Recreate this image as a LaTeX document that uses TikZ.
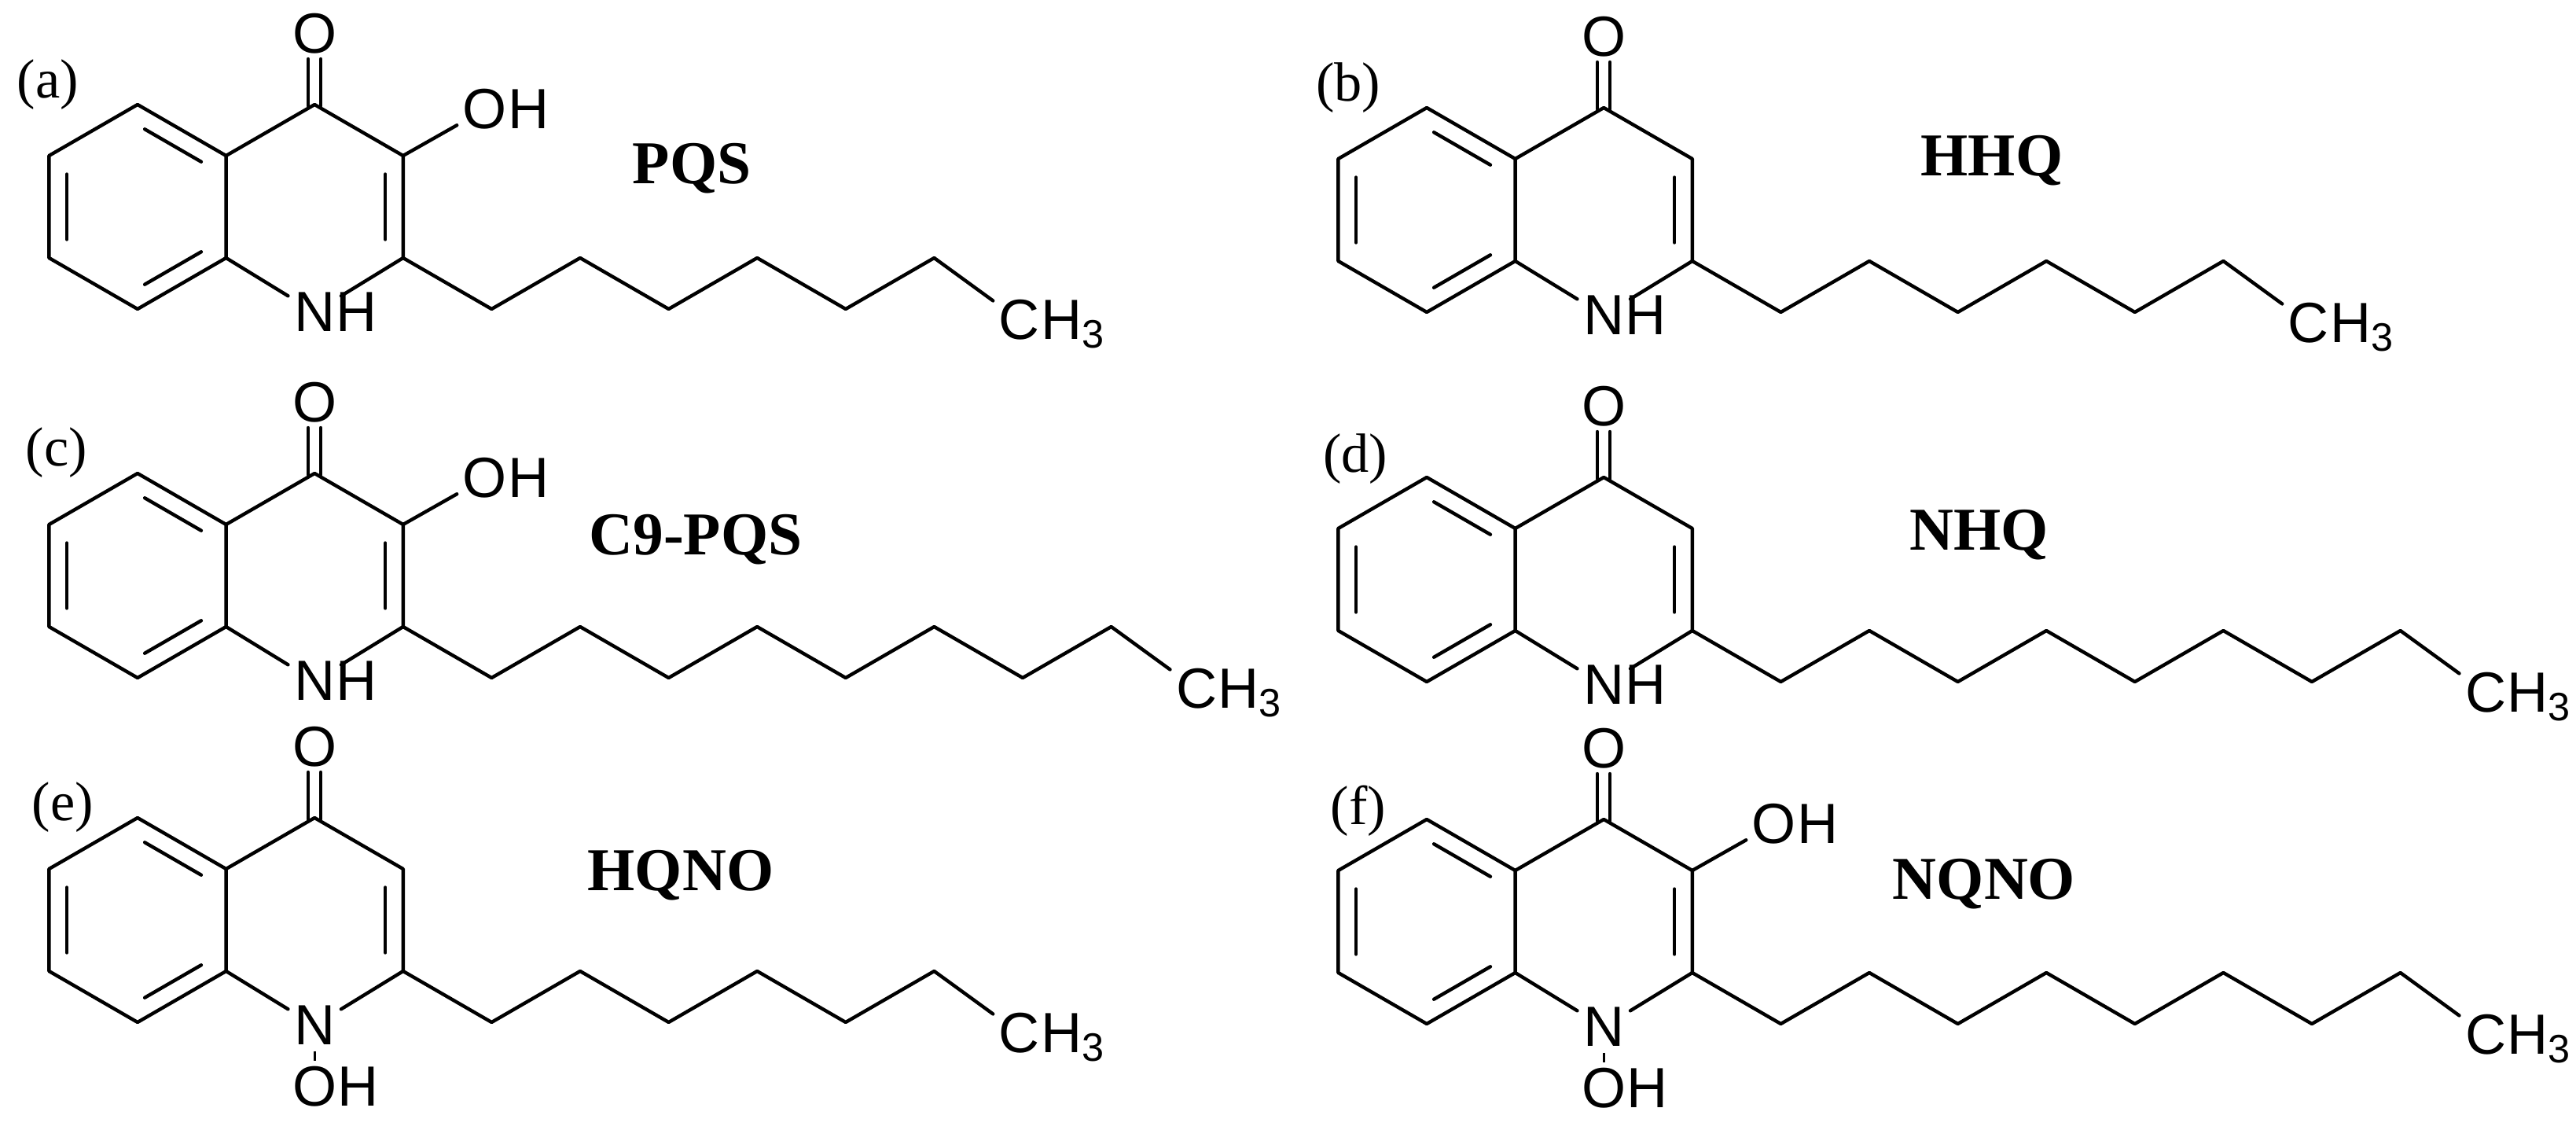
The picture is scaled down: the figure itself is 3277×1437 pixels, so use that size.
\documentclass[tikz,border=0pt]{standalone}
\usepackage{fontspec}
\setmainfont{Liberation Serif}
\newfontfamily\atomfont{Liberation Sans}
\usetikzlibrary{calc}
\tikzset{
  bond/.style={line width=1.25pt, line cap=round, line join=round},
  inner/.style={bond, shorten <=3pt, shorten >=3pt},
  atom/.style={font=\atomfont\fontsize{20.5}{20.5}\selectfont, inner sep=2pt},
  hatom/.style={font=\atomfont\fontsize{20.5}{20.5}\selectfont, inner sep=0pt, xshift=-2pt},
  cname/.style={font=\bfseries\fontsize{22}{22}\selectfont},
  plabel/.style={font=\fontsize{20}{20}\selectfont}
}
\newcommand\qcore[3]{%
  \coordinate (#3t) at ({#1},{#2});
  \coordinate (#3a) at ({#1+112.6},{#2+65});
  \coordinate (#3b) at ({#1+112.6},{#2+195});
  \coordinate (#3u) at ({#1},{#2+260});
  \coordinate (#3l) at ({#1-112.6},{#2+195});
  \coordinate (#3k) at ({#1-112.6},{#2+65});
  \coordinate (#3C4) at ({#1+225.2},{#2});
  \coordinate (#3C3) at ({#1+337.8},{#2+65});
  \coordinate (#3C2) at ({#1+337.8},{#2+195});
  \coordinate (#3bc) at ({#1},{#2+130});
  \coordinate (#3pc) at ({#1+225.2},{#2+130});
  \node[atom] (#3N) at ({#1+225.2},{#2+264}) {N};
  \node[atom] (#3O) at ({#1+225.2},{#2-90}) {O};
  \draw[bond] (#3t) -- (#3a) -- (#3b) -- (#3u) -- (#3l) -- (#3k) -- cycle;
  \draw[bond] (#3a) -- (#3C4) -- (#3C3) -- (#3C2) -- (#3N) -- (#3b);
  \draw[inner] ($(#3bc)!0.8!(#3t)$) -- ($(#3bc)!0.8!(#3a)$);
  \draw[inner] ($(#3bc)!0.8!(#3b)$) -- ($(#3bc)!0.8!(#3u)$);
  \draw[inner] ($(#3bc)!0.8!(#3l)$) -- ($(#3bc)!0.8!(#3k)$);
  \draw[inner] ($(#3pc)!0.8!(#3C3)$) -- ($(#3pc)!0.8!(#3C2)$);
  \draw[bond] ({#1+217},{#2+2}) -- ({#1+217},{#2-58});
  \draw[bond] ({#1+233},{#2+2}) -- ({#1+233},{#2-58});
}
\newcommand\qNH[1]{\node[hatom, anchor=base west] at (#1N.base east) {H};}
\newcommand\qNOH[3]{%
  \node[atom] (#3NO) at ({#1+225.2},{#2+342}) {O};
  \node[hatom, anchor=base west] at (#3NO.base east) {H};
  \draw[line width=0.9pt] (#3N) -- (#3NO);
}
\newcommand\qOH[3]{%
  \node[atom] (#3OH) at ({#1+442},{#2+6}) {O};
  \node[hatom, anchor=base west] at (#3OH.base east) {H};
  \draw[bond] (#3C3) -- (#3OH);
}
\newcommand\qchain[4]{%
  \node[atom] (#3me) at ({#1+337.8+112.6*(#4+1)-4},{#2+274}) {C};
  \node[hatom, anchor=base west] at (#3me.base east) {H\textsubscript{3}};
  \draw[bond] (#3C2) \foreach \i in {1,...,#4} {-- ({#1+337.8+112.6*\i},{#2+195+65*mod(\i,2)})} -- (#3me);
}
\begin{document}
\begin{tikzpicture}[x=0.01cm, y=-0.01cm]
\useasboundingbox (0,0) rectangle (3277,1437);
\qcore{175}{133}{a}\qNH{a}\qOH{175}{133}{a}\qchain{175}{133}{a}{6}
\node[plabel] (la) at (61,108) {(a)};
\node[cname] (na) at (880,214) {PQS};
\qcore{1815}{137}{b}\qNH{b}\qchain{1815}{137}{b}{6}
\node[plabel] (lb) at (1715,112) {(b)};
\node[cname] (nb) at (2534,204) {HHQ};
\qcore{175}{602}{c}\qNH{c}\qOH{175}{602}{c}\qchain{175}{602}{c}{8}
\node[plabel] (lc) at (72,576) {(c)};
\node[cname] (nc) at (885,686) {C9-PQS};
\qcore{1815}{607}{d}\qNH{d}\qchain{1815}{607}{d}{8}
\node[plabel] (ld) at (1724,584) {(d)};
\node[cname] (nd) at (2518,680) {NHQ};
\qcore{175}{1040}{e}\qNOH{175}{1040}{e}\qchain{175}{1040}{e}{6}
\node[plabel] (le) at (80,1027) {(e)};
\node[cname] (ne) at (866,1113) {HQNO};
\qcore{1815}{1042}{f}\qNOH{1815}{1042}{f}\qOH{1815}{1042}{f}\qchain{1815}{1042}{f}{8}
\node[plabel] (lf) at (1728,1031) {(f)};
\node[cname] (nf) at (2524,1124) {NQNO};
\end{tikzpicture}
\end{document}
